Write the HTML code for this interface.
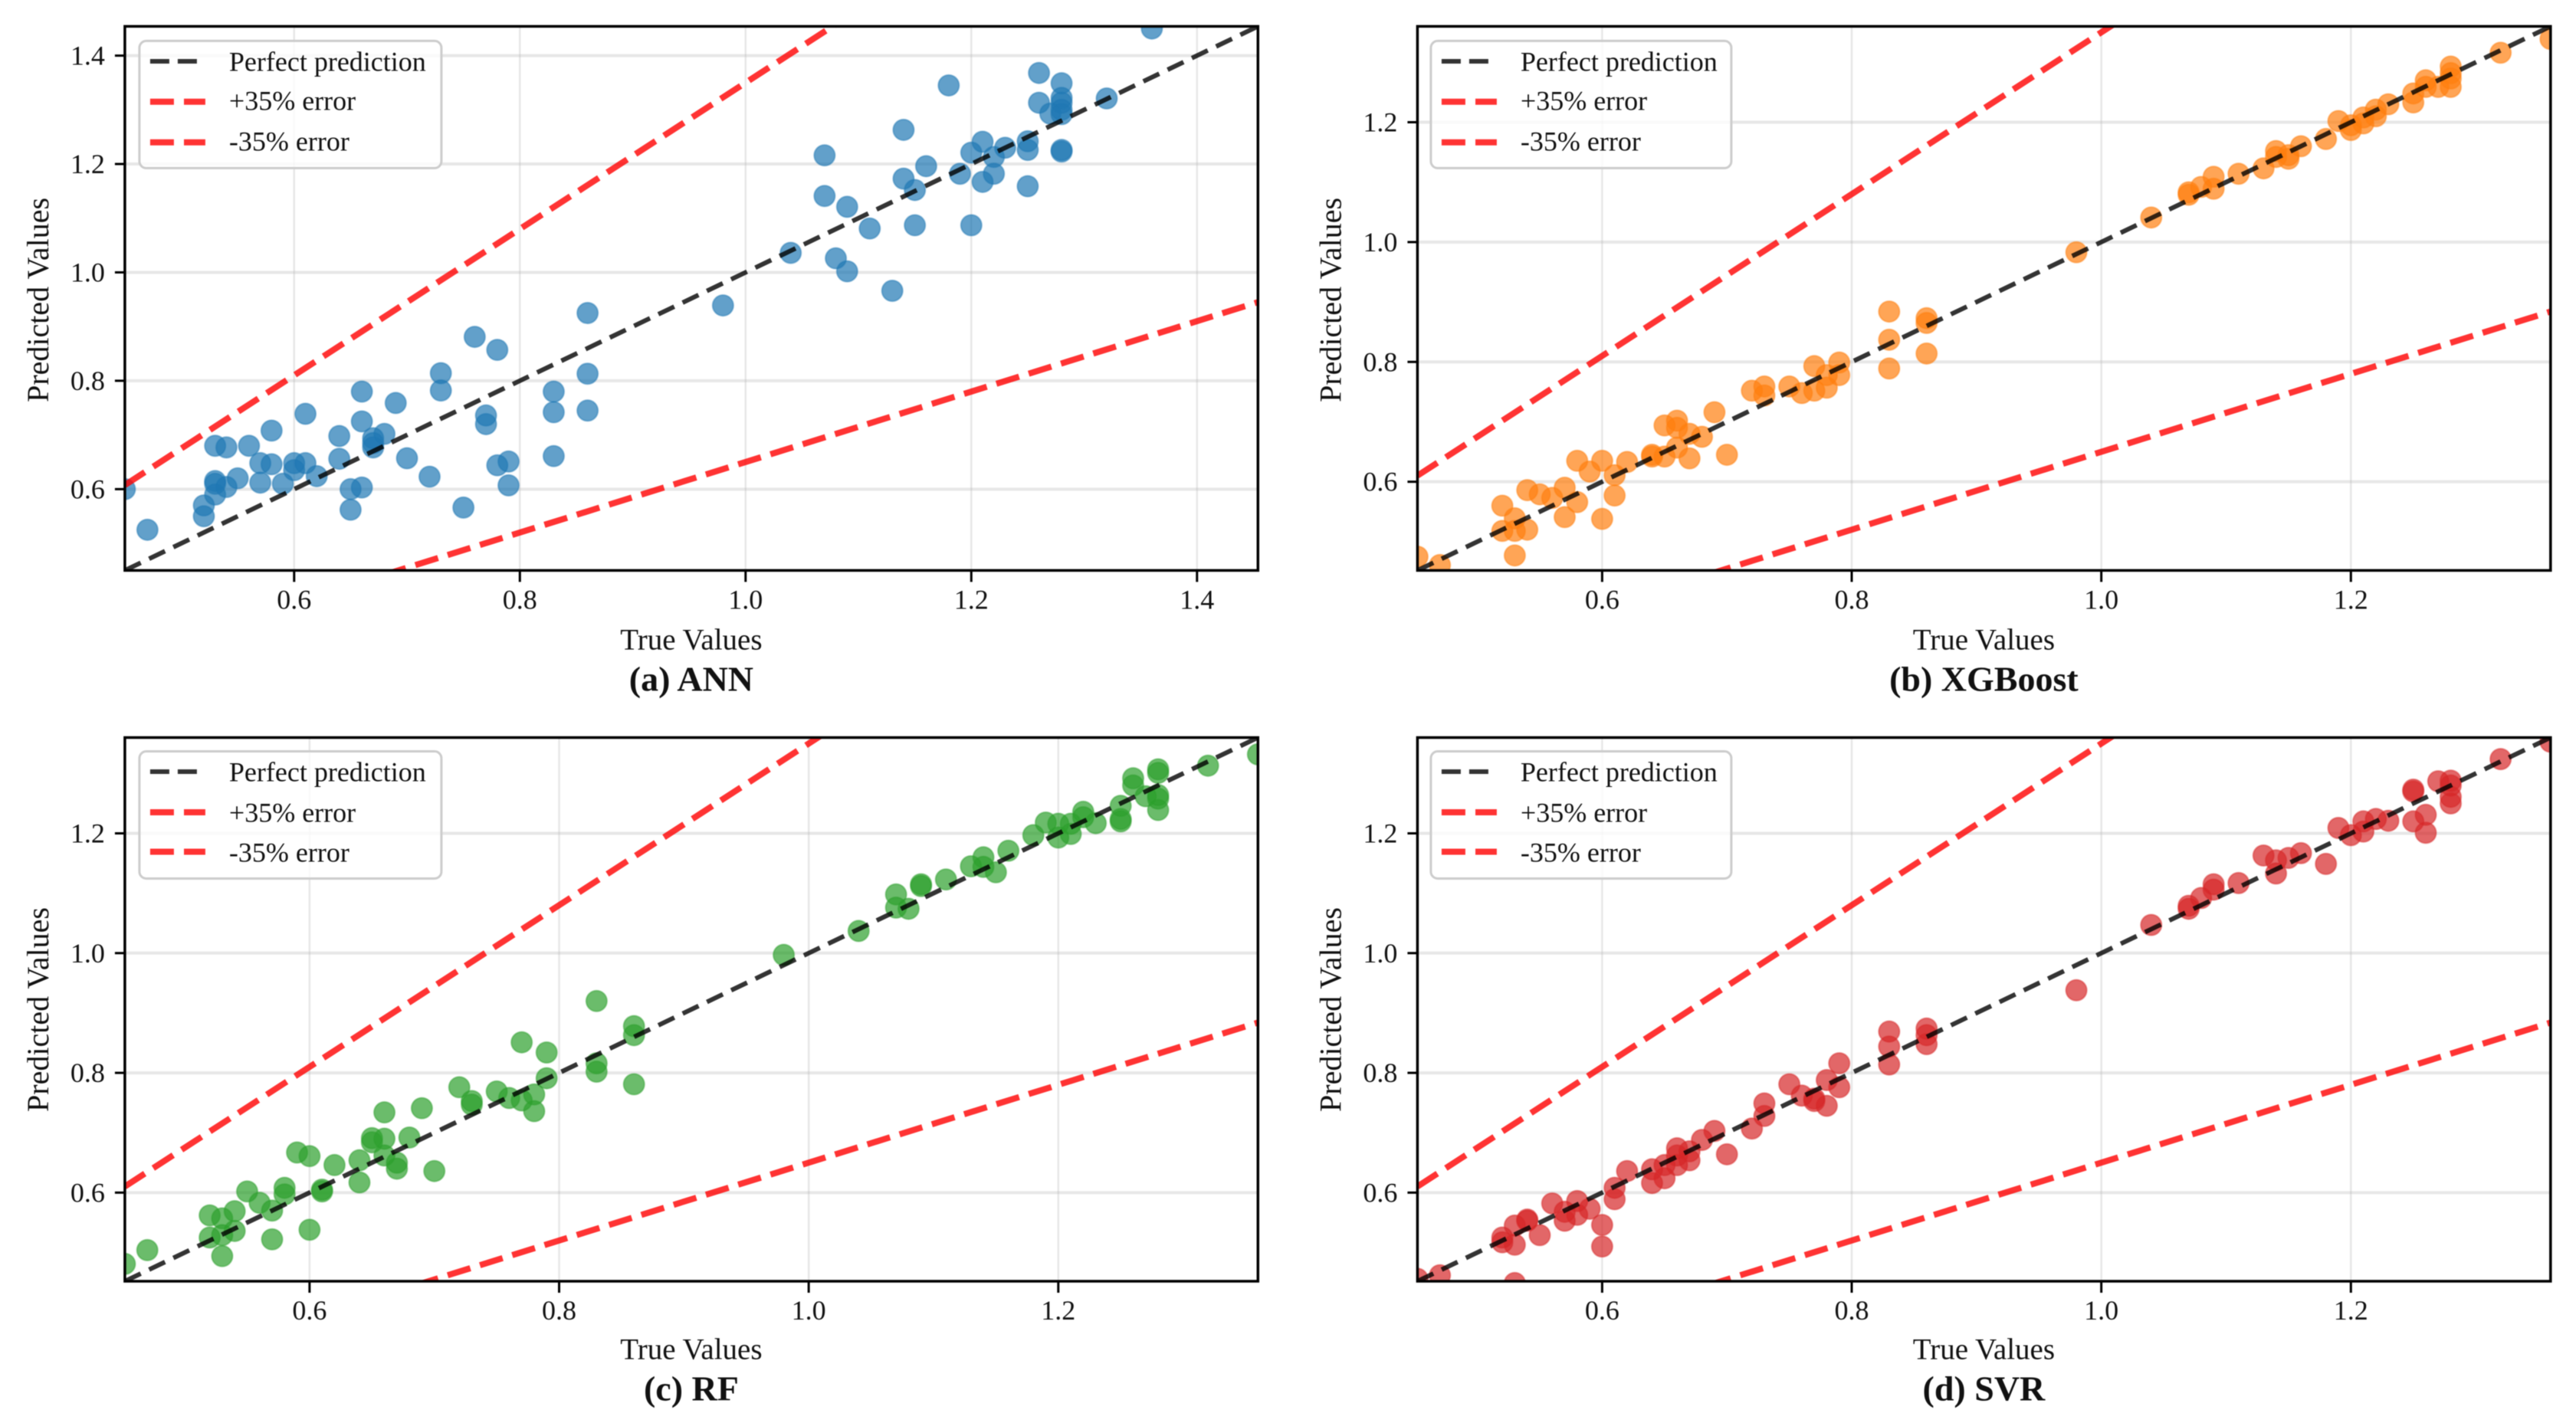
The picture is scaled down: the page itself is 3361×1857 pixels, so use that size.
<!DOCTYPE html>
<html lang="en">
<head>
<meta charset="utf-8">
<title>True vs Predicted Values: ANN, XGBoost, RF, SVR</title>
<style>
html,body{margin:0;padding:0;background:#fff;}
svg{display:block;position:absolute;left:0;top:0;filter:blur(0.6px);}
text{font-family:"Liberation Serif",serif;fill:#111;}
.tick{font-size:36px;}
.axis{font-size:39px;}
.ylab{font-size:40px;}
.title{font-size:46px;font-weight:bold;}
.leg{font-size:36px;}
</style>
</head>
<body>
<svg id="fig" width="3361" height="1857" viewBox="0 0 3361 1857" xmlns="http://www.w3.org/2000/svg">
  <defs>
    <clipPath id="clip-top"><rect x="0" y="0" width="1478.4" height="710"/></clipPath>
    <clipPath id="clip-bottom"><rect x="0" y="0" width="1478.4" height="709.5"/></clipPath>
  </defs>

  <g id="panel-ann" transform="translate(162.9,34.4)">
    <g class="plot" clip-path="url(#clip-top)"></g>
    <g class="ticks"></g>
    <g>
      <rect x="19" y="19" width="394" height="166" rx="9" fill="#fff" fill-opacity="0.8" stroke="#ccc" stroke-width="3"/>
      <line x1="33" x2="105" y1="45.6" y2="45.6" stroke="#000" stroke-opacity="0.8" stroke-width="6" stroke-dasharray="25 11"/>
      <line x1="33" x2="105" y1="98.3" y2="98.3" stroke="#ff0000" stroke-opacity="0.8" stroke-width="8" stroke-dasharray="31 13.1"/>
      <line x1="33" x2="105" y1="151.3" y2="151.3" stroke="#ff0000" stroke-opacity="0.8" stroke-width="8" stroke-dasharray="31 13.1"/>
      <text class="leg" x="136" y="58">Perfect prediction</text>
      <text class="leg" x="136" y="109">+35% error</text>
      <text class="leg" x="136" y="162">-35% error</text>
    </g>
    <rect x="0" y="0" width="1478.4" height="710" fill="none" stroke="#000" stroke-width="3.5"/>
    <text class="ylab" x="-100" y="357" text-anchor="middle" transform="rotate(-90 -100 357)">Predicted Values</text>
    <text class="axis" x="739" y="813" text-anchor="middle">True Values</text>
    <text class="title" x="739" y="867" text-anchor="middle">(a) ANN</text>
  </g>

  <g id="panel-xgb" transform="translate(1849.4,34.4)">
    <g class="plot" clip-path="url(#clip-top)"></g>
    <g class="ticks"></g>
    <g transform="translate(-1.5,0)">
      <rect x="19" y="19" width="392" height="166" rx="9" fill="#fff" fill-opacity="0.8" stroke="#ccc" stroke-width="3"/>
      <line x1="33" x2="105" y1="45.6" y2="45.6" stroke="#000" stroke-opacity="0.8" stroke-width="6" stroke-dasharray="25 11"/>
      <line x1="33" x2="105" y1="98.3" y2="98.3" stroke="#ff0000" stroke-opacity="0.8" stroke-width="8" stroke-dasharray="31 13.1"/>
      <line x1="33" x2="105" y1="151.3" y2="151.3" stroke="#ff0000" stroke-opacity="0.8" stroke-width="8" stroke-dasharray="31 13.1"/>
      <text class="leg" x="136" y="58">Perfect prediction</text>
      <text class="leg" x="136" y="109">+35% error</text>
      <text class="leg" x="136" y="162">-35% error</text>
    </g>
    <rect x="0" y="0" width="1478.4" height="710" fill="none" stroke="#000" stroke-width="3.5"/>
    <text class="ylab" x="-100" y="357" text-anchor="middle" transform="rotate(-90 -100 357)">Predicted Values</text>
    <text class="axis" x="739" y="813" text-anchor="middle">True Values</text>
    <text class="title" x="739" y="867" text-anchor="middle">(b) XGBoost</text>
  </g>

  <g id="panel-rf" transform="translate(162.9,962.5)">
    <g class="plot" clip-path="url(#clip-bottom)"></g>
    <g class="ticks"></g>
    <g>
      <rect x="19" y="18" width="394" height="166" rx="9" fill="#fff" fill-opacity="0.8" stroke="#ccc" stroke-width="3"/>
      <line x1="33" x2="105" y1="44.5" y2="44.5" stroke="#000" stroke-opacity="0.8" stroke-width="6" stroke-dasharray="25 11"/>
      <line x1="33" x2="105" y1="97.5" y2="97.5" stroke="#ff0000" stroke-opacity="0.8" stroke-width="8" stroke-dasharray="31 13.1"/>
      <line x1="33" x2="105" y1="149" y2="149" stroke="#ff0000" stroke-opacity="0.8" stroke-width="8" stroke-dasharray="31 13.1"/>
      <text class="leg" x="136" y="57">Perfect prediction</text>
      <text class="leg" x="136" y="110">+35% error</text>
      <text class="leg" x="136" y="162">-35% error</text>
    </g>
    <rect x="0" y="0" width="1478.4" height="709.5" fill="none" stroke="#000" stroke-width="3.5"/>
    <text class="ylab" x="-100" y="355" text-anchor="middle" transform="rotate(-90 -100 355)">Predicted Values</text>
    <text class="axis" x="739" y="811" text-anchor="middle">True Values</text>
    <text class="title" x="739" y="865" text-anchor="middle">(c) RF</text>
  </g>

  <g id="panel-svr" transform="translate(1849.4,962.5)">
    <g class="plot" clip-path="url(#clip-bottom)"></g>
    <g class="ticks"></g>
    <g transform="translate(-1.5,0)">
      <rect x="19" y="18" width="392" height="166" rx="9" fill="#fff" fill-opacity="0.8" stroke="#ccc" stroke-width="3"/>
      <line x1="33" x2="105" y1="44.5" y2="44.5" stroke="#000" stroke-opacity="0.8" stroke-width="6" stroke-dasharray="25 11"/>
      <line x1="33" x2="105" y1="97.5" y2="97.5" stroke="#ff0000" stroke-opacity="0.8" stroke-width="8" stroke-dasharray="31 13.1"/>
      <line x1="33" x2="105" y1="149" y2="149" stroke="#ff0000" stroke-opacity="0.8" stroke-width="8" stroke-dasharray="31 13.1"/>
      <text class="leg" x="136" y="57">Perfect prediction</text>
      <text class="leg" x="136" y="110">+35% error</text>
      <text class="leg" x="136" y="162">-35% error</text>
    </g>
    <rect x="0" y="0" width="1478.4" height="709.5" fill="none" stroke="#000" stroke-width="3.5"/>
    <text class="ylab" x="-100" y="355" text-anchor="middle" transform="rotate(-90 -100 355)">Predicted Values</text>
    <text class="axis" x="739" y="811" text-anchor="middle">True Values</text>
    <text class="title" x="739" y="865" text-anchor="middle">(d) SVR</text>
  </g>
</svg>

<script>
const annTrue = [.45,.47,.52,.52,.53,.54,.53,.53,.53,.54,.55,.56,.57,.57,.58,.58,.59,.60,.60,.61,.61,.62,.64,.64,.65,.65,.66,.66,.66,.67,.67,.67,.68,.69,.70,.72,.73,.73,.75,.76,.77,.77,.78,.78,.79,.79,.83,.83,.83,.86,.86,.86,.98,1.04,1.07,1.07,1.08,1.09,1.09,1.11,1.13,1.14,1.14,1.15,1.15,1.16,1.18,1.19,1.20,1.20,1.21,1.21,1.22,1.22,1.23,1.25,1.25,1.25,1.26,1.26,1.27,1.28,1.28,1.28,1.28,1.28,1.28,1.28,1.32,1.36];
const annPred = [.60,.525,.57,.55,.68,.677,.615,.61,.59,.604,.62,.68,.648,.612,.708,.646,.61,.648,.635,.739,.648,.624,.698,.656,.60,.562,.78,.725,.603,.694,.685,.677,.702,.759,.657,.623,.814,.782,.566,.881,.736,.72,.857,.644,.651,.607,.78,.742,.661,.925,.813,.745,.939,1.036,1.216,1.141,1.026,1.121,1.002,1.081,.966,1.263,1.173,1.152,1.087,1.196,1.345,1.182,1.221,1.087,1.241,1.167,1.213,1.182,1.23,1.242,1.226,1.159,1.368,1.313,1.293,1.349,1.322,1.313,1.30,1.292,1.226,1.223,1.321,1.45];

const xgbTrue = [.452,.47,.52,.52,.53,.53,.53,.54,.54,.55,.56,.57,.57,.58,.58,.59,.60,.60,.61,.61,.62,.64,.64,.65,.65,.66,.66,.66,.67,.67,.68,.69,.70,.72,.73,.73,.75,.76,.77,.77,.78,.78,.79,.79,.83,.83,.83,.86,.86,.86,.98,1.04,1.07,1.07,1.08,1.09,1.09,1.11,1.13,1.14,1.14,1.15,1.15,1.16,1.18,1.19,1.20,1.20,1.21,1.21,1.22,1.22,1.23,1.25,1.25,1.26,1.26,1.27,1.28,1.28,1.28,1.28,1.32,1.36];
const xgbPred = [.475,.461,.56,.518,.539,.518,.477,.586,.52,.579,.573,.59,.541,.635,.566,.617,.635,.538,.611,.577,.633,.645,.642,.694,.642,.702,.69,.657,.639,.68,.675,.716,.645,.752,.759,.744,.759,.748,.793,.752,.757,.778,.799,.778,.884,.837,.789,.873,.865,.814,.983,1.041,1.083,1.079,1.092,1.109,1.089,1.114,1.123,1.152,1.142,1.145,1.139,1.16,1.172,1.202,1.187,1.195,1.208,1.198,1.221,1.21,1.23,1.248,1.233,1.27,1.259,1.259,1.293,1.282,1.273,1.259,1.316,1.339];

const rfTrue = [.452,.47,.52,.52,.53,.53,.53,.54,.54,.55,.56,.57,.57,.58,.58,.59,.60,.60,.61,.61,.62,.64,.64,.65,.65,.66,.66,.66,.67,.67,.68,.69,.70,.72,.73,.73,.75,.76,.77,.77,.78,.78,.79,.79,.83,.83,.83,.86,.86,.86,.98,1.04,1.07,1.07,1.08,1.09,1.09,1.11,1.13,1.14,1.14,1.15,1.16,1.18,1.19,1.20,1.20,1.21,1.21,1.22,1.22,1.23,1.25,1.25,1.25,1.26,1.26,1.27,1.28,1.28,1.28,1.28,1.28,1.32,1.36];
const rfPred = [.481,.504,.562,.525,.557,.529,.494,.569,.536,.602,.583,.57,.522,.608,.597,.667,.661,.538,.605,.602,.646,.654,.617,.691,.684,.69,.734,.662,.65,.64,.692,.741,.636,.776,.753,.747,.769,.758,.851,.754,.764,.736,.834,.791,.92,.816,.802,.878,.863,.781,.997,1.037,1.098,1.076,1.074,1.115,1.112,1.123,1.145,1.16,1.144,1.135,1.171,1.197,1.218,1.216,1.193,1.216,1.199,1.236,1.227,1.217,1.246,1.224,1.22,1.292,1.28,1.262,1.307,1.301,1.264,1.258,1.239,1.313,1.332];

const svrTrue = [.452,.47,.52,.52,.53,.53,.53,.54,.54,.55,.56,.57,.57,.58,.58,.59,.60,.60,.61,.61,.62,.64,.64,.65,.65,.66,.66,.66,.67,.67,.68,.69,.70,.72,.73,.73,.75,.76,.77,.77,.78,.78,.79,.79,.83,.83,.83,.86,.86,.86,.98,1.04,1.07,1.07,1.08,1.09,1.09,1.11,1.13,1.14,1.14,1.15,1.16,1.18,1.19,1.20,1.21,1.21,1.22,1.23,1.25,1.25,1.25,1.26,1.26,1.27,1.28,1.28,1.28,1.28,1.32,1.36];
const svrPred = [.456,.462,.525,.517,.545,.513,.449,.553,.555,.529,.582,.568,.553,.586,.563,.573,.546,.51,.608,.589,.636,.639,.616,.646,.624,.674,.662,.646,.669,.654,.688,.703,.664,.707,.749,.728,.781,.762,.757,.753,.788,.745,.816,.776,.869,.844,.814,.874,.863,.848,.938,1.047,1.079,1.074,1.092,1.115,1.106,1.117,1.163,1.133,1.155,1.159,1.167,1.149,1.209,1.197,1.22,1.203,1.224,1.221,1.273,1.27,1.22,1.231,1.201,1.287,1.288,1.28,1.261,1.25,1.324,1.353];

const ticksWide = [0.6, 0.8, 1.0, 1.2, 1.4];
const ticksNarrow = [0.6, 0.8, 1.0, 1.2];
const limitsWide = [0.45, 1.454];
const limitsNarrow = [0.452, 1.36];
const upperErrorFactor = 1.35;
const lowerErrorFactor = 0.65;

const SVG_NS = 'http://www.w3.org/2000/svg';

function drawPanel(id, trueVals, predVals, color, limits, ticks, w, h) {
  const root = document.getElementById(id);
  const plot = root.querySelector('.plot');
  const tickLayer = root.querySelector('.ticks');
  const sx = function (v) { return (v - limits[0]) / (limits[1] - limits[0]) * w; };
  const sy = function (v) { return h - (v - limits[0]) / (limits[1] - limits[0]) * h; };

  ticks.forEach(function (t) {
    const gv = document.createElementNS(SVG_NS, 'line');
    
    
    gv.setAttribute('x1', sx(t)); gv.setAttribute('x2', sx(t));
    gv.setAttribute('y1', 0); gv.setAttribute('y2', h);
    gv.setAttribute('stroke', '#b0b0b0'); gv.setAttribute('stroke-opacity', '0.3');
    gv.setAttribute('stroke-width', '2.5');
    plot.appendChild(gv);

    const gh = document.createElementNS(SVG_NS, 'line');
    
    
    gh.setAttribute('x1', 0); gh.setAttribute('x2', w);
    gh.setAttribute('y1', sy(t)); gh.setAttribute('y2', sy(t));
    gh.setAttribute('stroke', '#b0b0b0'); gh.setAttribute('stroke-opacity', '0.3');
    gh.setAttribute('stroke-width', '4');
    plot.appendChild(gh);

    const tx = document.createElementNS(SVG_NS, 'line');
    
    
    tx.setAttribute('x1', sx(t)); tx.setAttribute('x2', sx(t));
    tx.setAttribute('y1', h); tx.setAttribute('y2', h + 15);
    tx.setAttribute('stroke', '#000'); tx.setAttribute('stroke-width', '3');
    tickLayer.appendChild(tx);

    const ty = document.createElementNS(SVG_NS, 'line');
    
    
    ty.setAttribute('x1', -13); ty.setAttribute('x2', 0);
    ty.setAttribute('y1', sy(t)); ty.setAttribute('y2', sy(t));
    ty.setAttribute('stroke', '#000'); ty.setAttribute('stroke-width', '3');
    tickLayer.appendChild(ty);

    const lx = document.createElementNS(SVG_NS, 'text');
    
    
    lx.setAttribute('class', 'tick');
    lx.setAttribute('x', sx(t)); lx.setAttribute('y', h + 50);
    lx.setAttribute('text-anchor', 'middle');
    lx.textContent = t.toFixed(1);
    tickLayer.appendChild(lx);

    const ly = document.createElementNS(SVG_NS, 'text');
    
    
    ly.setAttribute('class', 'tick');
    ly.setAttribute('x', -26); ly.setAttribute('y', sy(t) + 12);
    ly.setAttribute('text-anchor', 'end');
    ly.textContent = t.toFixed(1);
    tickLayer.appendChild(ly);
  });

  trueVals.forEach(function (tv, i) {
    const c = document.createElementNS(SVG_NS, 'circle');
    
    
    c.setAttribute('cx', sx(tv));
    c.setAttribute('cy', sy(predVals[i]));
    c.setAttribute('r', '13.6');
    c.setAttribute('fill', color);
    c.setAttribute('fill-opacity', '0.7');
    c.setAttribute('stroke', color);
    c.setAttribute('stroke-opacity', '0.45');
    c.setAttribute('stroke-width', '2');
    plot.appendChild(c);
  });

  const perfect = document.createElementNS(SVG_NS, 'line');
  
  
  perfect.setAttribute('x1', sx(limits[0])); perfect.setAttribute('y1', sy(limits[0]));
  perfect.setAttribute('x2', sx(limits[1])); perfect.setAttribute('y2', sy(limits[1]));
  perfect.setAttribute('stroke', '#000'); perfect.setAttribute('stroke-opacity', '0.8');
  perfect.setAttribute('stroke-width', '6'); perfect.setAttribute('stroke-dasharray', '23 12.1');
  plot.appendChild(perfect);

  const upper = document.createElementNS(SVG_NS, 'line');
  
  
  upper.setAttribute('x1', sx(limits[0])); upper.setAttribute('y1', sy(limits[0] * upperErrorFactor));
  upper.setAttribute('x2', sx(limits[1])); upper.setAttribute('y2', sy(limits[1] * upperErrorFactor));
  upper.setAttribute('stroke', '#ff0000'); upper.setAttribute('stroke-opacity', '0.8');
  upper.setAttribute('stroke-width', '8'); upper.setAttribute('stroke-dasharray', '31 13.12');
  plot.appendChild(upper);

  const lower = document.createElementNS(SVG_NS, 'line');
  
  
  lower.setAttribute('x1', sx(limits[0])); lower.setAttribute('y1', sy(limits[0] * lowerErrorFactor));
  lower.setAttribute('x2', sx(limits[1])); lower.setAttribute('y2', sy(limits[1] * lowerErrorFactor));
  lower.setAttribute('stroke', '#ff0000'); lower.setAttribute('stroke-opacity', '0.8');
  lower.setAttribute('stroke-width', '8'); lower.setAttribute('stroke-dasharray', '31 13.12');
  plot.appendChild(lower);
}

drawPanel('panel-ann', annTrue, annPred, '#1f77b4', limitsWide, ticksWide, 1478.4, 710);
drawPanel('panel-xgb', xgbTrue, xgbPred, '#ff7f0e', limitsNarrow, ticksNarrow, 1478.4, 710);
drawPanel('panel-rf', rfTrue, rfPred, '#2ca02c', limitsNarrow, ticksNarrow, 1478.4, 709.5);
drawPanel('panel-svr', svrTrue, svrPred, '#d62728', limitsNarrow, ticksNarrow, 1478.4, 709.5);
</script>
</body>
</html>
